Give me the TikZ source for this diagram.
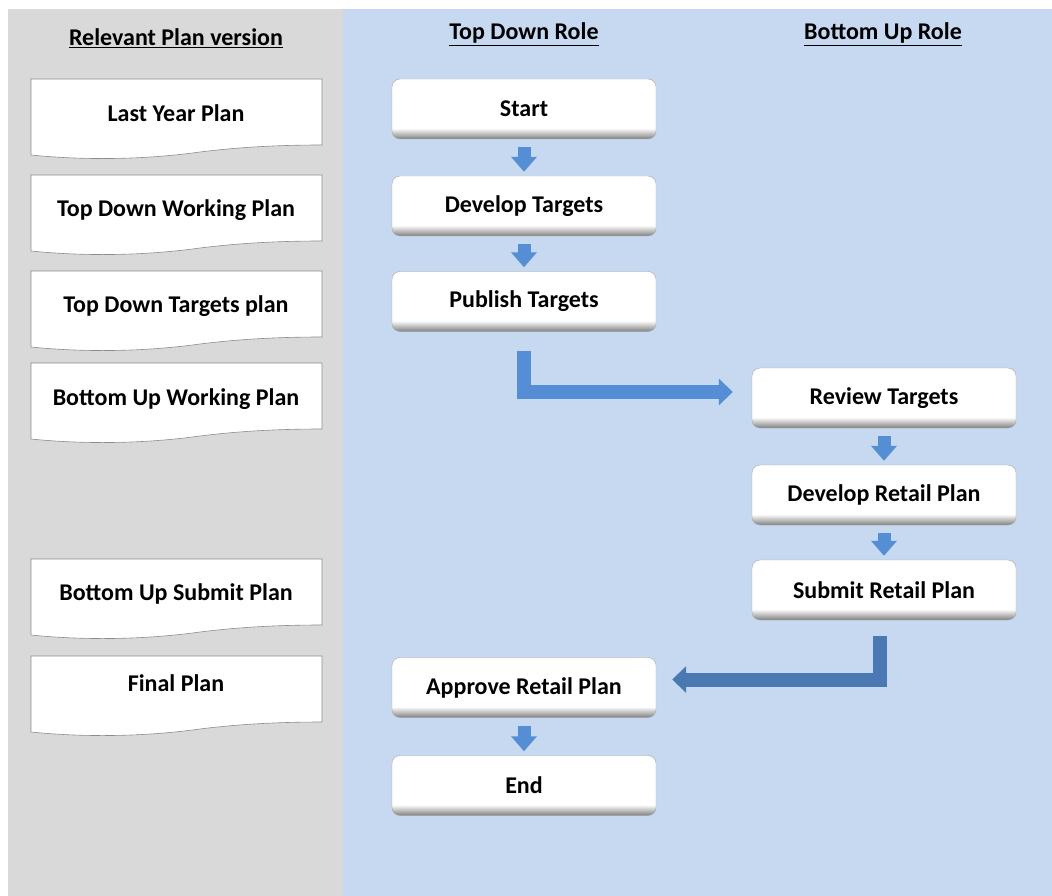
\documentclass[tikz,border=0pt]{standalone}
\usepackage{fontspec}
\setmainfont{Carlito}
\usepackage{xcolor}
\usepackage{tikz}
\usetikzlibrary{arrows.meta}
\definecolor{panelgray}{HTML}{D9D9D9}
\definecolor{panelblue}{HTML}{C6D9F1}
\definecolor{flowblue}{HTML}{558ED5}
\definecolor{flowdark}{HTML}{4A78B2}
\pgfdeclareverticalshading{bevel}{100bp}{color(0bp)=(black!50); color(25bp)=(black!50); color(34bp)=(white); color(100bp)=(white)}
\newcommand{\docshape}[1]{%
  \draw[docline] (31,#1) -- (322,#1) -- (322,#1+66)
    .. controls (280,#1+66) and (240,#1+68) .. (200,#1+73)
    .. controls (150,#1+80) and (90,#1+82) .. (31,#1+76) -- cycle;}

\begin{document}
\begin{tikzpicture}[x=1pt,y=-1pt,
  docline/.style={draw=black!45,fill=white,line width=0.6pt},
  doctext/.style={font=\bfseries\fontsize{24}{28}\selectfont},
  colhead/.style={font=\bfseries\fontsize{24}{28}\selectfont},
  procbox/.style={draw=black!35,rounded corners=8pt,shading=bevel,minimum width=264pt,minimum height=60pt,inner sep=0pt,font=\bfseries\fontsize{24}{28}\selectfont},
  dropflow/.style={draw=flowblue,line width=13pt,-{Triangle[width=25pt,length=15pt]},shorten <=8pt,shorten >=4pt},
  elbowarrow/.style={line width=14pt,-{Triangle[width=26pt,length=14pt]}}]
  \useasboundingbox (0,0) rectangle (1052,896);
  \fill[panelgray] (8,9) rectangle (343,896);
  \fill[panelblue] (343,9) rectangle (1052,896);

  \node[colhead] (hplan) at (176,38) {\underline{Relevant Plan version}};
  \node[colhead] (htop) at (524,34) {\underline{Top Down Role}};
  \node[colhead] (hbottom) at (883,34) {\underline{Bottom Up Role}};

  \docshape{79}
  \docshape{175}
  \docshape{271}
  \docshape{363}
  \docshape{559}
  \docshape{656}
  \node[doctext] (lyp) at (176,113) {Last Year Plan};
  \node[doctext] (tdwp) at (176,210) {Top Down Working Plan};
  \node[doctext] (tdtp) at (176,306) {Top Down Targets plan};
  \node[doctext] (buwp) at (176,399) {Bottom Up Working Plan};
  \node[doctext] (busp) at (176,594) {Bottom Up Submit Plan};
  \node[doctext] (fp) at (176,683) {Final Plan};

  \node[procbox] (start) at (524,109) {Start};
  \node[procbox] (devt) at (524,206) {Develop Targets};
  \node[procbox] (pubt) at (524,301.5) {Publish Targets};
  \node[procbox] (revt) at (884,398) {Review Targets};
  \node[procbox] (devrp) at (884,495) {Develop Retail Plan};
  \node[procbox] (subrp) at (884,590) {Submit Retail Plan};
  \node[procbox] (apprp) at (524,687.5) {Approve Retail Plan};
  \node[procbox] (endn) at (524,785.5) {End};

  \draw[dropflow] (start) -- (devt);
  \draw[dropflow] (devt) -- (pubt);
  \draw[dropflow] (revt) -- (devrp);
  \draw[dropflow] (devrp) -- (subrp);
  \draw[dropflow] (apprp) -- (endn);
  \draw[elbowarrow,flowblue] ([yshift=-19pt]pubt.south) |- ([xshift=-19pt,yshift=6pt]revt.west);
  \draw[elbowarrow,flowdark] ([xshift=-4pt,yshift=-16pt]subrp.south) |- ([xshift=16pt,yshift=8pt]apprp.east);
\end{tikzpicture}
\end{document}
